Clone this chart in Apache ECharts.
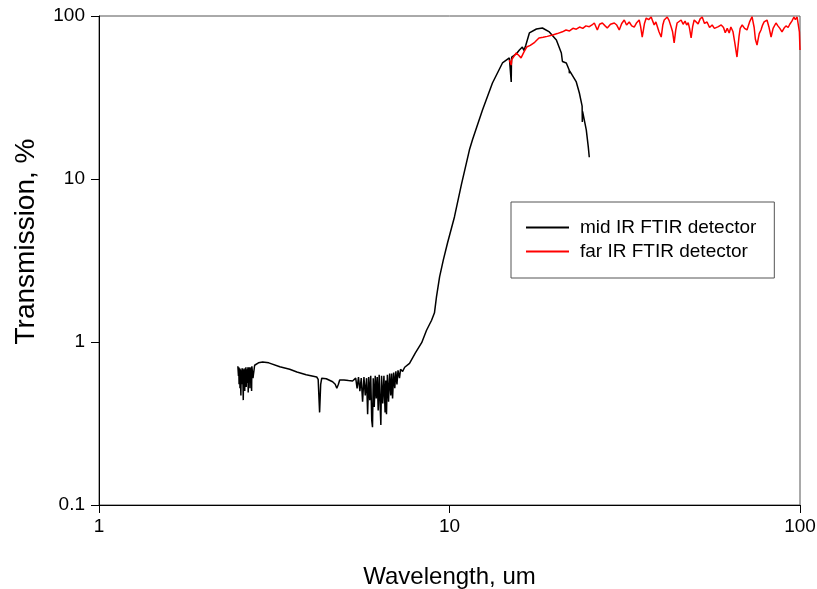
<!DOCTYPE html>
<html>
<head>
<meta charset="utf-8">
<script src="https://cdn.jsdelivr.net/npm/echarts@6/dist/echarts.min.js"></script>
<style>
html,body{margin:0;padding:0;background:#fff;}
#chart{width:817px;height:589px;}
</style>
</head>
<body>
<div id="chart"></div>
<script>
// Tick labels
const xTicks = [1, 10, 100];
const yTicks = [0.1, 1, 10, 100];
const seriesNames = ['mid IR FTIR detector', 'far IR FTIR detector'];

// mid IR FTIR detector: [wavelength (um), transmission (%)]
const midIrData = [
  [2.49,0.71],[2.50,0.62],[2.505,0.70],[2.51,0.55],[2.52,0.69],[2.525,0.52],[2.53,0.68],[2.54,0.47],
  [2.545,0.67],[2.55,0.56],[2.56,0.69],[2.565,0.55],[2.57,0.69],[2.58,0.44],[2.585,0.68],[2.59,0.58],
  [2.60,0.68],[2.605,0.50],[2.61,0.69],[2.62,0.60],[2.625,0.70],[2.63,0.53],[2.64,0.68],[2.65,0.56],
  [2.66,0.70],[2.665,0.49],[2.67,0.70],[2.68,0.60],[2.69,0.70],[2.695,0.52],[2.70,0.69],[2.71,0.62],
  [2.72,0.70],[2.725,0.50],[2.73,0.71],[2.75,0.60],[2.78,0.72],[2.85,0.745],
  [2.93,0.755],[3.05,0.745],[3.28,0.705],[3.50,0.68],[3.67,0.655],[3.90,0.63],[4.18,0.61],[4.22,0.59],
  [4.26,0.37],[4.29,0.55],[4.32,0.60],[4.45,0.595],[4.64,0.57],[4.72,0.55],[4.77,0.52],[4.82,0.55],
  [4.86,0.585],[5.00,0.585],[5.15,0.58],[5.29,0.576],[5.35,0.56],[5.40,0.60],[5.45,0.52],[5.50,0.61],
  [5.55,0.50],[5.60,0.60],[5.65,0.43],[5.70,0.61],[5.75,0.47],[5.80,0.60],[5.84,0.36],[5.88,0.61],
  [5.92,0.44],[5.96,0.62],[6.00,0.33],[6.03,0.30],[6.06,0.60],[6.10,0.40],[6.14,0.62],[6.18,0.45],
  [6.22,0.61],[6.26,0.38],[6.30,0.63],[6.34,0.41],[6.37,0.31],[6.40,0.62],[6.45,0.42],[6.50,0.62],
  [6.55,0.37],[6.58,0.58],[6.61,0.36],[6.65,0.63],[6.70,0.43],[6.75,0.64],[6.80,0.47],[6.84,0.64],
  [6.88,0.45],[6.93,0.65],[6.98,0.52],[7.03,0.66],[7.08,0.55],[7.13,0.67],[7.20,0.60],[7.25,0.68],
  [7.35,0.66],[7.45,0.70],[7.69,0.74],[8.00,0.86],[8.33,0.99],[8.60,1.18],[8.89,1.36],[9.06,1.51],
  [9.18,1.89],[9.37,2.51],[9.60,3.18],[9.87,4.05],[10.33,5.85],[10.82,9.3],[11.40,15.1],[11.63,17.4],
  [12.42,26.5],[13.26,38.8],[14.16,51.5],[14.82,55.3],[14.98,56],[15.00,39.4],[15.02,50],[15.05,56],
  [15.50,58.5],[15.83,61.9],[16.14,64.5],[16.30,61.5],[16.50,66],[16.90,78.7],[17.70,83.2],[18.41,84.4],
  [19.27,79.8],[20.18,71.3],[20.85,59.3],[21.00,52.6],[21.54,51.5],[21.95,46.6],[21.98,44.5],[22.02,46],
  [23.00,39.4],[23.47,33.7],[23.90,28],[23.93,22.4],[23.97,26],[24.24,25.4],[24.56,20.0],[24.89,15.7],
  [25.05,13.6]
];

// far IR FTIR detector: [wavelength (um), transmission (%)]
const farIrData = [
  [14.82,53.7],[14.95,55],[15.00,50],[15.05,54],[15.50,59.3],[15.80,57],[16.00,55.3],[16.30,60],
  [16.60,64.5],[17.00,66],[17.50,69],[18.00,73.3],[18.50,74],[19.00,75],[19.70,76.4],[20.30,78],
  [21.00,80],[21.50,82.1],[22.00,81],[22.50,84],[23.00,83],[23.50,85.6],[24.00,84],[24.50,87],
  [25.05,86],[25.50,88.1],[25.89,90.6],[26.41,82.1],[26.80,89],[27.29,90.6],[27.80,87],[28.19,84.4],
  [28.80,89],[29.52,90.6],[30.00,88],[30.50,82.1],[31.00,90],[31.52,94.5],[32.00,88],[32.57,91.9],
  [33.10,87],[33.65,85.6],[34.20,91],[34.77,94.5],[35.10,86],[35.47,74.3],[36.00,90],[36.41,97.2],
  [37.00,95],[37.62,98.6],[38.00,93],[38.37,88.1],[38.80,92],[39.13,90],[39.60,80],[40.18,74.3],
  [40.60,88],[40.98,94.5],[41.80,98.6],[42.30,94],[42.90,85.6],[43.30,80],[43.75,68.4],[44.20,82],
  [44.60,90.6],[45.80,94.5],[46.40,89],[47.00,93],[47.50,88],[47.97,91],[48.40,84],[48.90,73.3],
  [49.40,86],[49.90,94.5],[50.50,92],[51.20,89.5],[51.90,96],[52.60,98.6],[53.40,90],[54.30,91.9],
  [55.20,85],[56.15,88],[57.00,84],[57.60,82.1],[58.50,86],[59.60,88.1],[60.50,85],[61.20,79],
  [62.00,84],[62.80,78.7],[63.50,85.6],[64.40,80],[65.20,68],[66.10,56.0],[67.00,75],[67.50,84],
  [68.40,88.1],[69.50,84],[70.60,82.1],[71.80,92],[72.97,99],[74.00,85],[74.60,72],[75.40,66.4],
  [76.50,78],[77.40,82.1],[78.20,88],[79.00,92],[80.50,94.5],[81.50,86],[82.70,74.3],[83.80,84],
  [85.40,90.6],[86.50,87],[87.60,84],[88.85,79.8],[90.00,84],[91.20,87],[92.50,85],[93.50,89],
  [94.80,93],[96.10,98.6],[97.00,95],[98.10,98.6],[99.00,96],[99.60,80],[100,61.9]
];

const chart = echarts.init(document.getElementById('chart'), null, {renderer: 'canvas'});
const font = 'Arial, "Liberation Sans", sans-serif';
const fmt = v => {
  const t = [...xTicks, ...yTicks].find(k => Math.abs(k - v) / k < 1e-6);
  return t !== undefined ? String(t) : '';
};
chart.setOption({
  animation: false,
  backgroundColor: '#ffffff',
  grid: {left: 99, right: 17, top: 16, bottom: 84, show: true, borderColor: '#555', borderWidth: 1,
         containLabel: false, outerBoundsMode: 'none'},
  legend: {
    orient: 'vertical',
    left: 511, top: 202,
    padding: [16, 18, 17, 14],
    itemWidth: 43, itemHeight: 14, itemGap: 5,
    borderColor: '#555', borderWidth: 1,
    backgroundColor: '#fff',
    data: seriesNames,
    itemStyle: {color: 'rgba(0,0,0,0)', borderColor: 'rgba(0,0,0,0)', borderWidth: 0},
    textStyle: {fontFamily: font, fontSize: 19, color: '#000', padding: [0, 0, 0, 6]}
  },
  xAxis: {
    type: 'log', logBase: 10, min: xTicks[0], max: xTicks[xTicks.length - 1],
    name: 'Wavelength, um', nameLocation: 'middle', nameGap: 60,
    nameTextStyle: {fontFamily: font, fontSize: 24, color: '#000'},
    axisLine: {show: true, onZero: false, lineStyle: {color: '#000', width: 1}},
    axisTick: {show: true, length: 8, inside: false, lineStyle: {color: '#000'}},
    minorTick: {show: false},
    splitLine: {show: false},
    axisLabel: {fontFamily: font, fontSize: 19, color: '#000', margin: 12, formatter: fmt}
  },
  yAxis: {
    type: 'log', logBase: 10, min: yTicks[0], max: yTicks[yTicks.length - 1],
    name: 'Transmission, %', nameLocation: 'middle', nameGap: 59,
    nameTextStyle: {fontFamily: font, fontSize: 28, color: '#000', padding: [0, 0, 0, 38]},
    axisLine: {show: true, onZero: false, lineStyle: {color: '#000', width: 1}},
    axisTick: {show: true, length: 8, inside: false, lineStyle: {color: '#000'}},
    minorTick: {show: false},
    splitLine: {show: false},
    axisLabel: {fontFamily: font, fontSize: 19, color: '#000', margin: 14, formatter: fmt}
  },
  series: [
    {
      name: seriesNames[0], type: 'line', data: midIrData,
      showSymbol: false, symbol: 'none', smooth: false,
      lineStyle: {color: '#000000', width: 1.5},
      itemStyle: {color: '#000000'}
    },
    {
      name: seriesNames[1], type: 'line', data: farIrData,
      showSymbol: false, symbol: 'none', smooth: false,
      lineStyle: {color: '#ff0000', width: 1.5},
      itemStyle: {color: '#ff0000'}
    }
  ]
});
</script>
</body>
</html>
